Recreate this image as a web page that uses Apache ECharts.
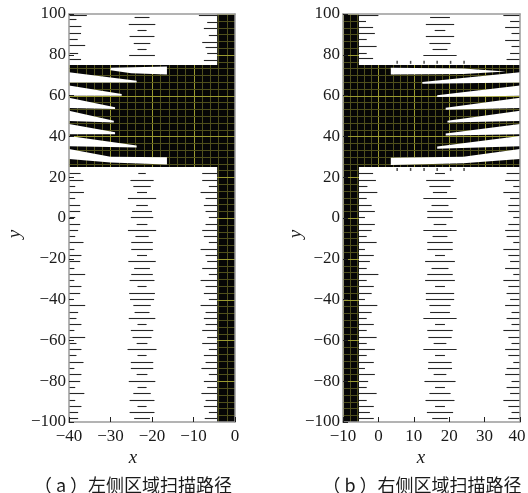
<!DOCTYPE html>
<html>
<head>
<meta charset="utf-8">
<script src="https://cdn.jsdelivr.net/npm/echarts@6/dist/echarts.min.js"></script>
<style>
  html, body { margin: 0; padding: 0; background: #fff; }
  #chart { width: 528px; height: 493px; }
</style>
</head>
<body>
<div id="chart"></div>
<script>
// y of the short scan lines below the block (shared by every column)
const lowY = [21.9, 18.8, 15.7, 12.7, 9.6, 6.5, 3.4, 0.3, -2.7, -5.8, -8.9, -12.0, -15.1, -18.1, -21.2, -24.3,
  -27.4, -30.5, -33.5, -36.6, -39.7, -42.8, -45.9, -48.9, -52.0, -55.1, -58.2, -61.3, -64.3, -67.4, -70.5,
  -73.6, -76.7, -79.7, -82.8, -85.9, -89.0, -92.1, -95.1, -98.2];

// tick labels
const xTicksA = [-40, -30, -20, -10, 0];
const xTicksB = [-10, 0, 10, 20, 30, 40];
const yTicks = [100, 80, 60, 40, 20, 0, -20, -40, -60, -80, -100];

// (a) left region
const aEdgeL = [2.8, 3.5, 1.5, 3.6, 1.5, 2.7, 2.7, 1.5, 2.7, 2.2, 1.5, 3.5, 1.3, 3.0, 2.7, 1.3, 3.9, 1.3, 3.0, 2.7,
  1.0, 3.9, 2.2, 1.8, 3.0, 1.3, 3.9, 1.8, 3.0, 1.8, 3.5, 1.3, 3.0, 2.7, 1.5, 3.7, 1.5, 3.0, 2.2, 2.2];
const aMid = [0.9, 2.8, 2.1, 1.2, 3.4, 1.4, 2.4, 2.7, 1.3, 3.4, 1.6, 2.6, 2.6, 1.2, 3.3, 1.9, 2.6, 3.0, 1.1, 3.1,
  2.9, 2.1, 1.8, 3.2, 1.1, 2.7, 2.3, 1.3, 3.5, 1.1, 2.7, 2.7, 1.3, 3.2, 1.1, 2.1, 3.0, 1.1, 3.0, 1.9];
const aEdgeR = [3.6, 3.6, 2.0, 4.0, 2.8, 3.2, 2.8, 2.0, 2.8, 3.6, 3.2, 2.0, 4.0, 2.8, 2.4, 3.6, 2.0, 4.0, 2.8, 3.2,
  2.0, 4.0, 2.8, 3.2, 2.8, 3.6, 2.4, 3.6, 2.0, 3.2, 2.8, 3.8, 2.0, 3.2, 2.4, 3.8, 2.8, 3.2, 2.0, 3.0];
const aTopEdgeL = [[99.6, 4.3], [97.4, 1.8], [94.1, 3.0], [90.8, 2.9], [87.6, 2.1], [84.8, 3.9], [81.0, 2.2], [77.8, 2.9]];
const aTopMid = [[98.7, 1.8], [95.1, 3.2], [92.2, 1.1], [89.2, 3.0], [85.9, 2.0], [82.7, 1.1], [79.8, 3.1]];
const aTopEdgeR = [[99.6, 4.4], [96.2, 2.4], [93.0, 3.2], [89.7, 2.0], [86.4, 3.6], [83.7, 2.8], [80.7, 2.4], [77.5, 3.2]];
const aBlack = [[-4.3, 0, -100, 100], [-40, 0, 25, 75]];
const aWhite = [
  [[-30, 73.7], [-16.4, 74.3], [-16.4, 70.4], [-25, 70.9], [-30, 72.4]],
  [[-40, 71.4], [-23.7, 67.3], [-23.7, 66.4], [-40, 66.4]],
  [[-40, 64.9], [-27.3, 60.8], [-27.3, 59.9], [-40, 59.9]],
  [[-40, 58.9], [-28.9, 54.3], [-28.9, 53.4], [-40, 53.9]],
  [[-40, 52.6], [-29.2, 47.7], [-29.2, 46.8], [-40, 47.6]],
  [[-40, 46.1], [-28.9, 42.0], [-28.9, 41.1], [-40, 41.1]],
  [[-40, 40.2], [-23.7, 35.6], [-23.7, 34.6], [-40, 35.2]],
  [[-40, 33.8], [-30, 30.0], [-16.4, 29.8], [-16.4, 26.2], [-30, 27.2], [-40, 28.9]]
];

// (b) right region
const bEdgeL = [4.0, 4.8, 2.4, 5.2, 2.2, 3.6, 4.5, 1.7, 4.5, 3.6, 2.2, 5.0, 1.7, 4.2, 3.1, 2.2, 5.5, 2.2, 4.2, 3.6,
  1.7, 5.2, 3.6, 2.2, 4.2, 2.2, 5.0, 2.2, 4.5, 2.2, 4.2, 1.7, 4.5, 2.6, 2.2, 5.0, 2.2, 4.2, 3.1, 4.2];
const bMid = [1.4, 3.9, 3.0, 2.0, 4.7, 2.4, 3.6, 3.6, 1.8, 4.7, 2.1, 3.6, 3.6, 1.4, 4.2, 2.4, 3.6, 4.2, 1.4, 4.0,
  4.0, 3.0, 2.8, 4.7, 1.4, 3.6, 3.3, 1.8, 4.7, 1.4, 3.3, 3.4, 1.8, 4.4, 1.4, 3.0, 4.1, 1.4, 3.7, 2.2];
const bEdgeR = [3.8, 4.2, 1.9, 4.7, 2.8, 3.3, 3.3, 1.9, 3.3, 4.2, 3.8, 1.9, 4.7, 3.3, 2.8, 4.2, 1.9, 4.7, 3.3, 3.8,
  2.8, 4.2, 2.4, 3.8, 2.4, 4.7, 3.3, 2.4, 4.2, 3.3, 1.9, 3.8, 4.2, 2.4, 3.8, 2.8, 4.7, 3.3, 2.4, 3.3];
const bTopEdgeL = [[99.6, 5.5], [96.7, 2.0], [93.8, 4.0], [90.5, 4.5], [87.6, 2.2], [84.3, 5.0], [81.0, 2.2], [78.3, 4.0]];
const bTopMid = [[98.7, 2.8], [95.1, 4.0], [92.2, 1.5], [89.2, 4.0], [85.6, 3.0], [82.7, 2.1], [79.8, 4.7]];
const bTopEdgeR = [[99.6, 4.7], [96.7, 2.8], [93.8, 4.2], [90.5, 2.4], [87.3, 4.2], [84.3, 2.4], [81.0, 2.8], [77.8, 3.8]];
const bBlack = [[-10, -5.5, -100, 100], [-10, 40, 25, 75]];
const bWhite = [
  [[3.5, 73.7], [24, 73.3], [36, 71.8], [24, 70.6], [3.5, 70.3]],
  [[40, 71.4], [12.4, 66.7], [12.4, 65.8], [40, 66.4]],
  [[40, 64.9], [16.6, 60.2], [16.6, 59.3], [40, 59.9]],
  [[40, 58.9], [19.0, 54.0], [19.0, 53.1], [40, 53.9]],
  [[40, 52.6], [19.5, 47.7], [19.5, 46.8], [40, 47.6]],
  [[40, 46.1], [19.0, 41.4], [19.0, 40.5], [40, 41.1]],
  [[40, 40.2], [16.6, 35.0], [16.6, 34.0], [40, 35.2]],
  [[40, 33.8], [24, 30.0], [3.5, 29.5], [3.5, 26.0], [24, 26.8], [40, 28.9]]
];
const bDotX = [5.3, 9.1, 12.9, 16.6, 20.4, 24.2];
const bDotY = [76.3, 23.8];

const SERIF = '"Liberation Serif", "Times New Roman", serif';
const MINOR = '#4f4f1c';
const MAJOR = '#9a9a30';

function buildSegs(x0L, cMid, x0R, eL, mid, eR, tL, tM, tR) {
  const out = [];
  lowY.forEach((y, i) => {
    out.push([x0L, y, x0L + eL[i]]);
    out.push([cMid - mid[i], y, cMid + mid[i]]);
    out.push([x0R - eR[i], y, x0R]);
  });
  tL.forEach(d => out.push([x0L, d[0], x0L + d[1]]));
  tM.forEach(d => out.push([cMid - d[1], d[0], cMid + d[1]]));
  tR.forEach(d => out.push([x0R - d[1], d[0], x0R]));
  return out;
}
const aSegs = buildSegs(-40, -22.4, -4.3, aEdgeL, aMid, aEdgeR, aTopEdgeL, aTopMid, aTopEdgeR);
const bSegs = buildSegs(-5.5, 17.4, 40, bEdgeL, bMid, bEdgeR, bTopEdgeL, bTopMid, bTopEdgeR);
const bDots = [];
bDotY.forEach(y => bDotX.forEach(x => bDots.push([x, y])));

function blackItem(params, api) {
  const x1 = api.value(0), x2 = api.value(1), y1 = api.value(2), y2 = api.value(3);
  const tl = api.coord([x1, y2]), br = api.coord([x2, y1]);
  const ch = [{ type: 'rect', shape: { x: tl[0], y: tl[1], width: br[0] - tl[0], height: br[1] - tl[1] }, style: { fill: '#060606' } }];
  for (let gx = Math.ceil(x1 / 2) * 2; gx <= x2; gx += 2) {
    const px = Math.round(api.coord([gx, 0])[0]) + 0.5;
    ch.push({ type: 'line', shape: { x1: px, y1: tl[1], x2: px, y2: br[1] },
      style: { stroke: gx % 10 === 0 ? MAJOR : MINOR, lineWidth: 1 } });
  }
  for (let k = Math.ceil(y1 * 0.3 - 1e-6); k * 10 / 3 <= y2 + 1e-6; k++) {
    const py = Math.round(api.coord([0, k * 10 / 3])[1]) + 0.5;
    ch.push({ type: 'line', shape: { x1: tl[0], y1: py, x2: br[0], y2: py },
      style: { stroke: k % 6 === 0 ? MAJOR : MINOR, lineWidth: 1 } });
  }
  return { type: 'group', children: ch };
}
function polyItem(list) {
  return function (params, api) {
    const pts = list[params.dataIndex].map(p => api.coord(p));
    return { type: 'polygon', shape: { points: pts }, style: { fill: '#fff' } };
  };
}
function segItem(params, api) {
  const a = api.coord([api.value(0), api.value(1)]);
  const b = api.coord([api.value(2), api.value(1)]);
  const y = Math.round(a[1]) + 0.5;
  return { type: 'line', shape: { x1: a[0], y1: y, x2: b[0], y2: y }, style: { stroke: '#262626', lineWidth: 1.1 } };
}

const minus = v => String(v).replace('-', '\u2212');
const frameLine = { onZero: false, lineStyle: { color: '#9a9a9a', width: 1.5 } };
function xAxes(g, min, max) {
  return [{
    gridIndex: g, type: 'value', min: min, max: max, interval: 10, z: 5, axisLine: frameLine,
    axisTick: { inside: true, length: 5, lineStyle: { color: '#222' } },
    axisLabel: { show: false }, splitLine: { show: false }
  }, {
    gridIndex: g, type: 'value', min: min, max: max, position: 'top', z: 5, axisLine: frameLine,
    axisTick: { show: false }, axisLabel: { show: false }, splitLine: { show: false }
  }];
}
function yAxes(g) {
  return [{
    gridIndex: g, type: 'value', min: -100, max: 100, interval: 20, z: 5, axisLine: frameLine,
    axisTick: { inside: true, length: 5, lineStyle: { color: '#222' } },
    axisLabel: { show: false }, splitLine: { show: false }
  }, {
    gridIndex: g, type: 'value', min: -100, max: 100, position: 'right', z: 5, axisLine: frameLine,
    axisTick: { show: false }, axisLabel: { show: false }, splitLine: { show: false }
  }];
}
function panelSeries(xi, yi, black, white, segs) {
  return [
    { type: 'custom', xAxisIndex: xi, yAxisIndex: yi, renderItem: blackItem, data: black, clip: true, silent: true, z: 1 },
    { type: 'custom', xAxisIndex: xi, yAxisIndex: yi, renderItem: polyItem(white), data: white.map(p => p[0]), clip: true, silent: true, z: 2 },
    { type: 'custom', xAxisIndex: xi, yAxisIndex: yi, renderItem: segItem, data: segs, encode: { x: [0, 2], y: 1 }, clip: true, silent: true, z: 3 }
  ];
}

const chart = echarts.init(document.getElementById('chart'), null, { renderer: 'canvas' });
chart.setOption({
  animation: false,
  backgroundColor: '#fff',
  grid: [
    { left: 69, width: 166, top: 14, height: 408 },
    { left: 343, width: 177, top: 14, height: 408 }
  ],
  xAxis: xAxes(0, -40, 0).concat(xAxes(1, -10, 40)),
  yAxis: yAxes(0).concat(yAxes(1)),
  series: panelSeries(0, 0, aBlack, aWhite, aSegs)
    .concat(panelSeries(2, 2, bBlack, bWhite, bSegs))
    .concat([{ type: 'scatter', xAxisIndex: 2, yAxisIndex: 2, data: bDots, symbol: 'rect', symbolSize: [1.5, 3],
      itemStyle: { color: '#222' }, silent: true, z: 4 }])
});

// tick labels and titles, placed through the axes' own scales
function txt(x, y, s, font, align, rot) {
  return { type: 'text', x: x, y: y, rotation: rot || 0, z: 10,
    style: { text: s, font: font, fill: '#1a1a1a', align: align || 'center', verticalAlign: 'middle' } };
}
const tickFont = '17px ' + SERIF;
const g = [];
xTicksA.forEach(v => g.push(txt(chart.convertToPixel({ xAxisIndex: 0 }, v), 437, minus(v), tickFont)));
xTicksB.forEach(v => g.push(txt(chart.convertToPixel({ xAxisIndex: 2 }, v) - (v === 40 ? 3 : 0), 437, minus(v), tickFont)));
yTicks.forEach(v => {
  g.push(txt(66, chart.convertToPixel({ yAxisIndex: 0 }, v), minus(v), tickFont, 'right'));
  g.push(txt(340, chart.convertToPixel({ yAxisIndex: 2 }, v), minus(v), tickFont, 'right'));
});
const nameFont = 'italic 19px ' + SERIF;
g.push(txt(133, 458, 'x', nameFont));
g.push(txt(421, 458, 'x', nameFont));
g.push(txt(15, 234, 'y', nameFont, 'center', Math.PI / 2));
g.push(txt(296, 234, 'y', nameFont, 'center', Math.PI / 2));
g.push(txt(133, 485, '（ a ）左侧区域扫描路径', '18px "Noto Sans CJK SC"'));
g.push(txt(422, 485, '（ b ）右侧区域扫描路径', '18px "Noto Sans CJK SC"'));
chart.setOption({ graphic: g });
</script>
</body>
</html>
